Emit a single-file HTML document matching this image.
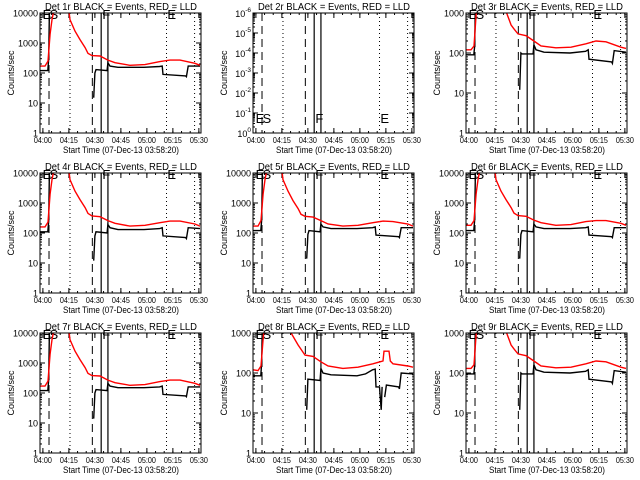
<!DOCTYPE html>
<html><head><meta charset="utf-8">
<style>
html,body{margin:0;padding:0;background:#fff;}
svg{display:block;font-family:"Liberation Sans",sans-serif;}
</style></head>
<body>
<svg id="chart" width="640" height="480" viewBox="0 0 640 480" xmlns="http://www.w3.org/2000/svg">
<rect x="0" y="0" width="640" height="480" fill="#fff"/>
</svg>
<script>
// time in minutes since 03:58:20
const xTickLabels = ["04:00","04:15","04:30","04:45","05:00","05:15","05:30"];
const xTickMinutes = [1.67,16.67,31.67,46.67,61.67,76.67,91.67];
const redT = [0,2.9,4.6,5.8,6.9,8.7,16.2,17.3,20.2,23.1,26,27.7,30,34.6,39.2,43.3,51.9,60.6,69.2,75,80.8,89.4,92.3];
const blackT = [0,4.5,5,5.5,6,8.5,null,31,31.7,32.3,38.7,39.2,40.4,45,60,69,70.5,71,84,84.5,85.5,92.3];
const p8RedT = [0,2.9,4.6,5.8,6.9,8.7,16.2,22,26,30,34.6,39.2,43.3,51.9,60.6,69.2,75,75.6,78.5,79.2,80.8,89.4,92.3];
const p8BlackT = [0,4.5,5,5.5,6,null,31,31.7,38.7,39.2,40.4,45,60,65,69,70.5,71,73,74,74.5,null,76,77,84,84.5,85.5,92.3];
const dashedLines = [5.2,30.2];
const solidLines = [35.3,39.2];
const dottedLines = [17.3,73.0,89.2];

const p1Red = [170,170,250,2000,6000,20000,20000,6000,2500,1300,700,450,380,370,270,220,180,190,240,270,270,210,180];
const p1Black = [120,120,300,20000,20000,20000,null,15,100,130,120,220,170,155,155,165,170,90,80,75,170,170];
const p3Red = [120,120,150,900,2000,3000,3000,2000,1500,1100,500,400,300,270,200,150,135,140,170,200,190,140,130];
const p3Black = [90,90,150,3000,3000,3000,null,12,100,95,95,160,120,105,100,110,120,70,60,55,115,105];
const p4Red = [160,160,230,2000,6000,20000,20000,6000,2500,1300,700,450,370,350,260,210,170,180,220,250,250,200,170];
const p4Black = [110,110,250,20000,20000,20000,null,12,80,110,100,190,150,130,130,140,150,80,70,65,150,140];
const p5Red = [170,170,260,2000,6000,20000,20000,6000,2500,1200,650,420,360,340,260,200,170,180,220,250,240,200,170];
const p5Black = [120,120,280,20000,20000,20000,null,14,90,120,110,200,160,140,140,150,160,85,75,70,150,150];
const p6Red = [180,180,260,2000,6000,20000,20000,6000,2500,1300,700,460,380,360,270,220,180,190,240,260,260,210,180];
const p6Black = [120,120,280,20000,20000,20000,null,14,90,120,110,200,160,140,140,150,160,85,75,70,150,150];
const p7Red = [170,170,250,2000,6000,20000,20000,6000,2500,1300,700,450,380,370,270,220,180,190,240,270,270,210,180];
const p7Black = [120,120,280,20000,20000,20000,null,14,100,130,120,210,170,150,150,160,170,90,80,75,160,160];
const p8Red = [120,115,150,700,2000,3000,3000,1000,500,280,260,190,150,130,140,170,200,350,350,200,170,150,140];
const p8Black = [85,85,190,3000,3000,null,12,70,65,130,100,90,85,95,120,125,45,45,12,45,null,25,50,45,40,100,95];
const p9Red = [130,130,160,900,2000,3000,3000,2000,1500,1100,500,400,300,270,200,150,135,140,170,200,190,140,130];
const p9Black = [95,95,150,3000,3000,3000,null,12,100,95,95,160,120,105,100,110,120,70,60,55,115,105];

const panels = [
 {num:1, col:0,row:0, dec:[0,4], rt:redT, rv:p1Red, bt:blackT, bv:p1Black},
 {num:2, col:1,row:0, neg:true},
 {num:3, col:2,row:0, dec:[0,3], rt:redT, rv:p3Red, bt:blackT, bv:p3Black},
 {num:4, col:0,row:1, dec:[0,4], rt:redT, rv:p4Red, bt:blackT, bv:p4Black},
 {num:5, col:1,row:1, dec:[0,4], rt:redT, rv:p5Red, bt:blackT, bv:p5Black},
 {num:6, col:2,row:1, dec:[0,4], rt:redT, rv:p6Red, bt:blackT, bv:p6Black},
 {num:7, col:0,row:2, dec:[0,4], rt:redT, rv:p7Red, bt:blackT, bv:p7Black},
 {num:8, col:1,row:2, dec:[0,3], rt:p8RedT, rv:p8Red, bt:p8BlackT, bv:p8Black},
 {num:9, col:2,row:2, dec:[0,3], rt:redT, rv:p9Red, bt:blackT, bv:p9Black}
];

const NS="http://www.w3.org/2000/svg";
const svg=document.getElementById('chart');
function mk(tag,attrs,parent){const e=document.createElementNS(NS,tag);for(const k in attrs)e.setAttribute(k,attrs[k]);parent.appendChild(e);return e;}

panels.forEach(p=>{
  const ox=p.col*213, oy=p.row*160;
  const L=ox+40,R=ox+201,T=oy+13,B=oy+133;
  const g=mk('g',{},svg);
  
  
  const cid='clip'+p.num;
  const cp=mk('clipPath',{id:cid},g);
  mk('rect',{x:L,y:T,width:R-L,height:B-T},cp);
  const xS=t=>L+t*(R-L)/92.9;
  let yS;
  if(p.neg){ yS=v=>B-(v)*(B-T)/6; }
  else { const d0=p.dec[0],d1=p.dec[1]; yS=v=>B-(Math.log10(v)-d0)*(B-T)/(d1-d0); }

  const ti=mk('text',{x:ox+121,y:oy+10,'font-size':'10.5','text-anchor':'middle',fill:'#000',textLength:'152',lengthAdjust:'spacingAndGlyphs'},g);
  ti.textContent='Det '+p.num+'r BLACK = Events, RED = LLD';
  
  
  const yt=mk('text',{x:0,y:0,'font-size':'9','text-anchor':'middle',fill:'#000',transform:`translate(${ox+14},${oy+73}) rotate(-90)`},g);
  yt.textContent='Counts/sec';
  
  
  const xt=mk('text',{x:ox+121,y:oy+153,'font-size':'9.5','text-anchor':'middle',fill:'#000',textLength:'116',lengthAdjust:'spacingAndGlyphs'},g);
  xt.textContent='Start Time (07-Dec-13 03:58:20)';
  
  

  xTickMinutes.forEach((m,i)=>{
    const x=xS(m);
    mk('line',{x1:x,x2:x,y1:B,y2:B-5,stroke:'#000'},g);
    mk('line',{x1:x,x2:x,y1:T,y2:T+5,stroke:'#000'},g);
    const tl=mk('text',{x:x,y:B+10,'font-size':'8.5','text-anchor':'middle',fill:'#000',textLength:'18',lengthAdjust:'spacingAndGlyphs'},g);
    tl.textContent=xTickLabels[i];
    
    
  });
  for(let m=1.67;m<93;m+=5){const x=xS(m);mk('line',{x1:x,x2:x,y1:B,y2:B-2,stroke:'#000'},g);mk('line',{x1:x,x2:x,y1:T,y2:T+2,stroke:'#000'},g);}

  if(p.neg){
    for(let k=0;k<=6;k++){
      const y=B-k*20;
      mk('line',{x1:L,x2:L+5,y1:y,y2:y,stroke:'#000'},g);
      mk('line',{x1:R,x2:R-5,y1:y,y2:y,stroke:'#000'},g);
      const tl=mk('text',{x:L-2,y:y+4,'font-size':'9','text-anchor':'end',fill:'#000'},g);
      tl.textContent='10';
      const sp=mk('tspan',{dy:'-5','font-size':'6.5'},tl);
      sp.textContent=k===0?'0':'-'+k;
      
      
      if(k<6){for(let j=2;j<10;j++){const yy=y-Math.log10(j)*20;mk('line',{x1:L,x2:L+2,y1:yy,y2:yy,stroke:'#000'},g);mk('line',{x1:R,x2:R-2,y1:yy,y2:yy,stroke:'#000'},g);}}
    }
  } else {
    for(let d=p.dec[0];d<=p.dec[1];d++){
      const y=yS(Math.pow(10,d));
      mk('line',{x1:L,x2:L+5,y1:y,y2:y,stroke:'#000'},g);
      mk('line',{x1:R,x2:R-5,y1:y,y2:y,stroke:'#000'},g);
      const tl=mk('text',{x:L-2,y:y+3.5,'font-size':'9','text-anchor':'end',fill:'#000'},g);
      tl.textContent=String(Math.pow(10,d));
      
      
      if(d<p.dec[1]){for(let j=2;j<10;j++){const yy=yS(j*Math.pow(10,d));mk('line',{x1:L,x2:L+2,y1:yy,y2:yy,stroke:'#000'},g);mk('line',{x1:R,x2:R-2,y1:yy,y2:yy,stroke:'#000'},g);}}
    }
  }

  dashedLines.forEach(m=>{const l=mk('line',{x1:xS(m),x2:xS(m),y1:T,y2:B,stroke:'#000','stroke-dasharray':'8,5'},g);});
  solidLines.forEach(m=>{const l=mk('line',{x1:xS(m),x2:xS(m),y1:T,y2:B,stroke:'#000','stroke-width':'1.2'},g);});
  dottedLines.forEach(m=>{const l=mk('line',{x1:xS(m),x2:xS(m),y1:T,y2:B,stroke:'#000','stroke-dasharray':'1,3'},g);});

  const ly=p.neg?B-10:T+6;
  [['E',1.5],['S',5.5],['F',36],['E',73.5]].forEach(([c,m])=>{
    const t=mk('text',{x:xS(m),y:ly,'font-size':'13',fill:'#000'},g);
    t.textContent=c;
    
    
  });

  function series(ts,vs,color,name){
    let d='',pen=false;
    for(let i=0;i<ts.length;i++){
      if(ts[i]===null||vs[i]===null){pen=false;continue;}
      const x=xS(ts[i]).toFixed(1), y=yS(vs[i]).toFixed(1);
      d+=(pen?'L':'M')+x+' '+y+' ';pen=true;
    }
    const path=mk('path',{d:d,fill:'none',stroke:color,'stroke-width':'1.4','clip-path':`url(#${cid})`},g);
    
    
  }
  if(!p.neg){
    series(p.bt,p.bv,'#000','events-series');
    series(p.rt,p.rv,'#f00','lld-series');
  }
  const fr=mk('rect',{x:L,y:T,width:R-L,height:B-T,fill:'none',stroke:'#000','stroke-width':'1'},g);
  
  
});
</script>
</body></html>
